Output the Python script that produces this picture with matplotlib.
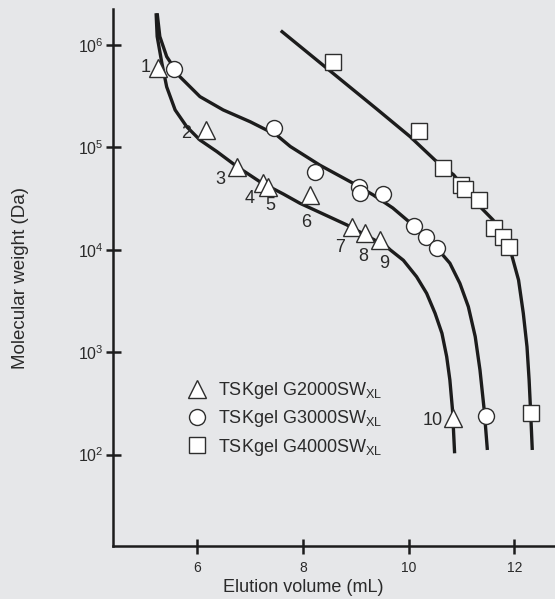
import matplotlib
matplotlib.use("Agg")
import matplotlib.pyplot as plt
from matplotlib.ticker import FixedLocator, FixedFormatter, NullLocator

plt.rcParams["font.family"] = ["Liberation Sans", "DejaVu Sans"]
plt.rcParams["mathtext.fontset"] = "custom"
plt.rcParams["mathtext.rm"] = "Liberation Sans"
plt.rcParams["mathtext.it"] = "Liberation Sans:italic"
plt.rcParams["mathtext.bf"] = "Liberation Sans:bold"

# ======================= calibration standards (mL, Da) ======================= #
g2000_vol = [5.25, 6.16, 6.76, 7.24, 7.33, 8.13, 8.92, 9.18, 9.45, 10.83]
g2000_mw = [6.0e5, 1.48e5, 6.4e4, 4.5e4, 4.1e4, 3.4e4, 1.68e4, 1.45e4, 1.24e4, 230]
g2000_ids = ["1", "2", "3", "4", "5", "6", "7", "8", "9", "10"]

g3000_vol = [5.55, 7.45, 8.22, 9.06, 9.07, 9.51, 10.10, 10.32, 10.54, 11.46]
g3000_mw = [5.8e5, 1.55e5, 5.7e4, 4.1e4, 3.6e4, 3.5e4, 1.7e4, 1.33e4, 1.03e4, 237]

g4000_vol = [8.56, 10.19, 10.65, 11.00, 11.07, 11.33, 11.61, 11.78, 11.89, 12.32]
g4000_mw = [6.8e5, 1.46e5, 6.3e4, 4.3e4, 3.9e4, 3.06e4, 1.64e4, 1.33e4, 1.07e4, 253]

# ========================= traced calibration curves ========================== #
curve2000_vol = [5.22, 5.24, 5.33, 5.42, 5.58, 5.80, 6.05, 6.37, 6.75, 7.19, 7.63,
                 7.94, 8.83, 9.59, 9.65, 9.90, 10.15, 10.34, 10.50, 10.63, 10.72,
                 10.78, 10.83, 10.87]
curve2000_mw = [2.04e6, 1.21e6, 6.6e5, 3.9e5, 2.32e5, 1.59e5, 1.18e5, 9.1e4, 6.5e4, 4.6e4, 3.5e4,
                2.85e4, 1.75e4, 1.07e4, 1.0e4, 7.9e3, 5.46e3, 3.76e3, 2.4e3, 1.53e3, 904,
                536, 273, 103]

curve3000_vol = [5.24, 5.29, 5.42, 5.67, 6.05, 6.49, 7.00, 7.50, 7.76, 8.32, 8.95,
                 9.33, 9.70, 10.10, 10.54, 10.78, 10.97, 11.13, 11.26, 11.35, 11.43, 11.49]
curve3000_mw = [2.04e6, 1.21e6, 7.7e5, 4.9e5, 3.13e5, 2.32e5, 1.78e5, 1.32e5, 1.02e5, 6.7e4, 4.46e4,
                3.43e4, 2.56e4, 1.71e4, 1.03e4, 7.4e3, 4.7e3, 2.78e3, 1.42e3, 670, 273, 111]

curve4000_vol = [7.58, 9.40, 10.03, 10.50, 10.85, 11.35, 11.60, 11.95, 12.08, 12.17,
                 12.24, 12.28, 12.31, 12.34]
curve4000_mw = [1.38e6, 2.36e5, 1.27e5, 7.5e4, 5.4e4, 2.64e4, 1.95e4, 8.9e3, 5.07e3, 2.4e3,
                1.13e3, 536, 253, 111]

# offsets (points) of the standard numbers next to the triangles
id_dx = [-9, -14, -12.5, -9.5, 2, -3, -8.5, -1.5, 3.5, -14]
id_dy = [0, -2.5, -8.5, -11, -13, -19.5, -15, -16.5, -16.5, -2]

bg = "#e6e7e9"
ink = "#1c1c1c"

fig = plt.figure(figsize=(5.55, 5.99), dpi=100, facecolor=bg)
ax = fig.add_axes([113 / 555, 1 - 545.7 / 599, 442 / 555, 536.4 / 599])
ax.set_facecolor(bg)

for v, m in [(curve2000_vol, curve2000_mw), (curve3000_vol, curve3000_mw),
             (curve4000_vol, curve4000_mw)]:
    ax.plot(v, m, "-", color=ink, lw=2.4, solid_joinstyle="round",
            solid_capstyle="butt", zorder=2)

mk = dict(linestyle="none", markerfacecolor="white", markeredgecolor="#2e2e2e",
          markeredgewidth=1.0, zorder=3)
h1, = ax.plot(g2000_vol, g2000_mw, marker="^", ms=12.5,
              label=r"TSKgel G2000SW$_{\mathrm{XL}}$", **mk)
h2, = ax.plot(g3000_vol, g3000_mw, marker="o", ms=11.5,
              label=r"TSKgel G3000SW$_{\mathrm{XL}}$", **mk)
h3, = ax.plot(g4000_vol, g4000_mw, marker="s", ms=12,
              label=r"TSKgel G4000SW$_{\mathrm{XL}}$", **mk)

for v, m, t, dx, dy in zip(g2000_vol, g2000_mw, g2000_ids, id_dx, id_dy):
    ax.annotate(t, (v, m), xytext=(dx, dy), textcoords="offset points",
                ha="center", va="center", fontsize=13, color="#2a2a2a",
                family=["Liberation Sans Narrow", "Liberation Sans"], zorder=4)

ax.set_yscale("log")
ax.set_xlim(4.404, 12.77)
ax.set_ylim(12.9, 2.23e6)

ax.xaxis.set_major_locator(FixedLocator([6, 8, 10, 12]))
ax.xaxis.set_major_formatter(FixedFormatter(["6", "8", "10", "12"]))
ax.yaxis.set_major_locator(FixedLocator([1e2, 1e3, 1e4, 1e5, 1e6]))
ax.yaxis.set_major_formatter(FixedFormatter(
    [r"$\mathrm{10^{2}}$", r"$\mathrm{10^{3}}$", r"$\mathrm{10^{4}}$",
     r"$\mathrm{10^{5}}$", r"$\mathrm{10^{6}}$"]))
ax.yaxis.set_minor_locator(NullLocator())
ax.xaxis.set_minor_locator(NullLocator())

for side in ["top", "right"]:
    ax.spines[side].set_visible(False)
for side in ["left", "bottom"]:
    ax.spines[side].set_linewidth(1.8)
    ax.spines[side].set_color(ink)

ax.tick_params(axis="both", direction="inout", length=10.8, width=1.8, color=ink)
ax.tick_params(axis="x", pad=5.5, labelsize=10, labelcolor="#2a2a2a")
ax.tick_params(axis="y", pad=1.5, labelsize=11.5, labelcolor="#2a2a2a")
for lab in ax.get_xticklabels():
    lab.set_family(["Liberation Sans Narrow", "Liberation Sans"])

ax.set_xlabel("Elution volume (mL)", fontsize=13, color="#2a2a2a", ha="center", va="top")
ax.xaxis.set_label_coords(0.431, -0.062)
ax.set_ylabel("Molecular weight (Da)", fontsize=13.5, color="#2a2a2a")
ax.yaxis.set_label_coords(-0.19, 0.5)

ax.legend(handles=[h1, h2, h3], loc="center left", bbox_to_anchor=(0.171, 0.2365),
          frameon=False, fontsize=13, handlelength=0.9, handletextpad=0.72,
          labelspacing=0.4, borderpad=0, borderaxespad=0, labelcolor="#2a2a2a")

fig.savefig("out.png", dpi=100, facecolor=bg)
